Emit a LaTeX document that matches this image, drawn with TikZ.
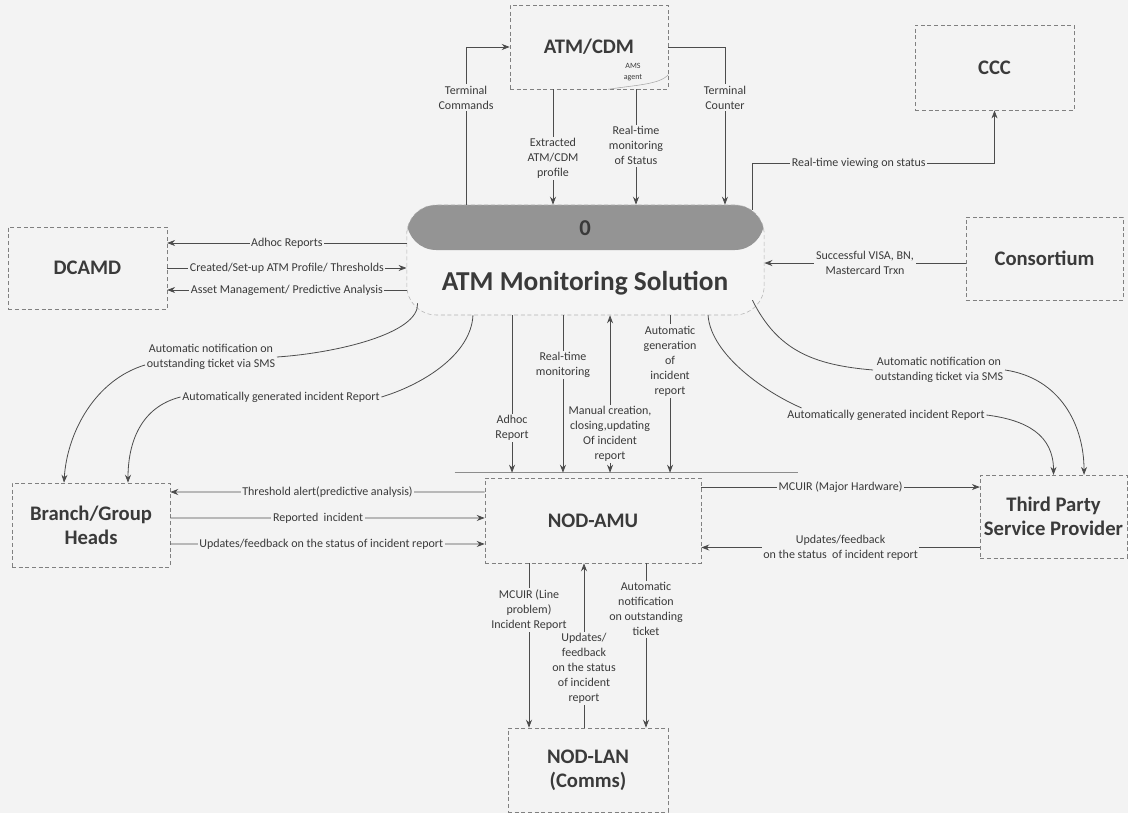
\documentclass[tikz,border=0pt]{standalone}
\usepackage{fontspec}
\setmainfont{Carlito}
\usetikzlibrary{arrows.meta}
\definecolor{paper}{HTML}{F3F3F3}
\definecolor{ink}{HTML}{3A3A3A}

\begin{document}
\begin{tikzpicture}[x=0.75pt,y=-0.75pt,
  >={Stealth[length=6pt,width=4.5pt]},
  entity/.style={rectangle, draw=black!50, densely dashed, line width=0.4pt, fill=paper, text=ink, align=center, font=\bfseries\fontsize{15.5}{18}\selectfont},
  lbl/.style={fill=paper, inner sep=1.2pt, text=ink, align=center, font=\fontsize{9}{11.25}\selectfont},
  flow/.style={draw=black!70, line width=0.6pt, ->},
  flowline/.style={draw=black!70, line width=0.6pt}]
\useasboundingbox (0,0) rectangle (1128,813);
\fill[paper] (0,0) rectangle (1128,813);

% entities
\node[entity, minimum width=118.5pt, minimum height=63pt] (atm) at (589,47) {ATM/CDM};
\node[font=\fontsize{6}{8}\selectfont, text=ink, align=center] (agent) at (633,72) {AMS\\agent};
\draw[black!35, line width=0.4pt] ([xshift=-45pt]atm.south east) .. controls +(25,-4) and +(-8,10) .. ([yshift=11pt]atm.south east);
\node[entity, minimum width=119pt, minimum height=64pt] (ccc) at (994.5,67.5) {CCC};
\node[entity, minimum width=119pt, minimum height=61.5pt] (dcamd) at (87.5,268) {DCAMD};
\node[entity, minimum width=118pt, minimum height=62pt] (cons) at (1044.5,258.5) {Consortium};
\node[entity, minimum width=118.5pt, minimum height=63pt] (branch) at (91,525) {Branch/Group\\Heads};
\node[entity, minimum width=162pt, minimum height=63.75pt] (nodamu) at (593,520.5) {NOD-AMU};
\node[entity, minimum width=110pt, minimum height=62pt, inner sep=1pt] (tsp) at (1053.5,516.5) {Third Party\\Service Provider};
\node[entity, minimum width=120pt, minimum height=63pt] (nodlan) at (588,770) {NOD-LAN\\(Comms)};

% process 0
\node[rectangle, rounded corners=22pt, minimum width=268pt, minimum height=82.5pt, fill=white!96!black, draw=black!30, densely dashed,
  path picture={\fill[black!42] (path picture bounding box.north west) rectangle ([yshift=-33.75pt]path picture bounding box.north east);}] (ams) at (585.5,260) {};
\node[font=\bfseries\fontsize{17}{17}\selectfont, text=ink] (amsnum) at (585,228) {0};
\node[font=\bfseries\fontsize{20.5}{24}\selectfont, text=ink] (amsname) at (585,283) {ATM Monitoring Solution};

\coordinate (barL) at ([shift={(-22.5pt,3.75pt)}]nodamu.north west);
\coordinate (barR) at ([shift={(72.75pt,3.75pt)}]nodamu.north east);
\draw[black!45, line width=0.4pt] (barL) -- (barR);

% ATM/CDM
\draw[flow] ([xshift=-89.6pt]ams.north) |- node[lbl, pos=0.34] (tcmd) {Terminal\\Commands} (atm.west);
\coordinate (xp) at ([xshift=-27pt]atm.south);
\draw[flow] (xp) -- node[lbl, pos=0.6] (xprof) {Extracted\\ATM/CDM\\profile} (xp |- ams.north);
\coordinate (rp) at ([xshift=35.25pt]atm.south);
\draw[flow] (rp) -- node[lbl, pos=0.49] (rstat) {Real-time\\monitoring\\of Status} (rp |- ams.north);
\draw[flow] (atm.east) -| node[lbl, pos=0.66] (tcnt) {Terminal\\Counter} ([xshift=104.6pt]ams.north);

% CCC
\draw[flow] ([xshift=124.9pt,yshift=-4pt]ams.north) -- ++(0,-47) -| node[lbl, pos=0.22] (rview) {Real-time viewing on status} (ccc.south);

% DCAMD
\draw[flow] ([yshift=12.75pt]ams.west) -- node[lbl] (adhr) {Adhoc Reports} ([yshift=18.75pt]dcamd.east);
\draw[flow] (dcamd.east) -- node[lbl] (prof) {Created/Set-up ATM Profile/ Thresholds} (dcamd.east -| ams.west);
\draw[flow] ([yshift=-22.5pt]ams.west) -- node[lbl] (asset) {Asset Management/ Predictive Analysis} ([yshift=-16.5pt]dcamd.east);

% Consortium
\coordinate (cin) at ([yshift=-3.4pt]cons.west);
\draw[flow] (cin) -- node[lbl] (visa) {Successful VISA, BN,\\Mastercard Trxn} (cin -| ams.east);

% process 0 and NOD-AMU
\coordinate (adp) at ([xshift=-55.1pt]ams.south);
\draw[flow] (adp) -- node[lbl, pos=0.715] (adhr2) {Adhoc\\Report} (adp |- barL);
\coordinate (rtp) at ([xshift=-16.9pt]ams.south);
\draw[flow] (rtp) -- node[lbl, pos=0.316] (rtmon) {Real-time\\monitoring} (rtp |- barL);
\coordinate (mcp) at ([xshift=18.4pt]ams.south);
\draw[flow, <->] (mcp) -- node[lbl, pos=0.755] (manual) {Manual creation,\\closing,updating\\Of incident\\report} (mcp |- barL);
\coordinate (agp) at ([xshift=63.4pt]ams.south);
\draw[flow] (agp) -- node[lbl, pos=0.29] (autogen) {Automatic\\generation\\of\\incident\\report} (agp |- barL);

% NOD-AMU and NOD-LAN
\coordinate (mlp) at ([xshift=-48pt]nodamu.south);
\draw[flow] (mlp) -- node[lbl, pos=0.285] (mline) {MCUIR (Line\\problem)\\Incident Report} (mlp |- nodlan.north);
\coordinate (ufp) at ([xshift=-3pt]nodlan.north);
\draw[flow] (ufp) -- node[lbl, pos=0.36] (upd2) {Updates/\\feedback\\on the status\\of incident\\report} (ufp |- nodamu.south);
\coordinate (anp) at ([xshift=39.75pt]nodamu.south);
\draw[flow] (anp) -- node[lbl, pos=0.28] (anot) {Automatic\\notification\\on outstanding\\ticket} (anp |- nodlan.north);

% Branch/Group Heads
\draw[flow] ([yshift=21.4pt]nodamu.west) -- node[lbl] (thr) {Threshold alert(predictive analysis)} ([yshift=24.75pt]branch.east);
\draw[flow] ([yshift=5.25pt]branch.east) -- node[lbl, pos=0.47] (rinc) {Reported\ \ incident} ([yshift=1.9pt]nodamu.west);
\draw[flow] ([yshift=-14.25pt]branch.east) -- node[lbl, pos=0.48] (upd1) {Updates/feedback on the status of incident report} ([yshift=-17.6pt]nodamu.west);

% Third Party Service Provider
\draw[flow] ([yshift=25.1pt]nodamu.east) -- node[lbl] (mhw) {MCUIR (Major Hardware)} ([yshift=22.1pt]tsp.west);
\draw[flow] ([yshift=-23.25pt]tsp.west) -- node[lbl] (upd3) {Updates/feedback\\on the status\ \ of incident report} ([yshift=-20.25pt]nodamu.east);

% curved notifications
\node[lbl] (smsl) at (211,357) {Automatic notification on\\outstanding ticket via SMS};
\draw[flowline] ([shift={(8.25pt,9pt)}]ams.south west) .. controls +(2,30) and +(60,-4) .. (smsl.east);
\draw[flow] ([yshift=-6pt]smsl.west) .. controls +(-50,15) and +(3,-50) .. ([xshift=-20.25pt]branch.north);
\node[lbl] (rptl) at (281,397) {Automatically generated incident Report};
\draw[flowline] ([xshift=-84.4pt]ams.south) .. controls +(-2,40) and +(40,-12) .. (rptl.east);
\draw[flow] (rptl.west) .. controls +(-40,10) and +(0,-40) .. ([xshift=27.75pt]branch.north);
\node[lbl] (smsr) at (939,370) {Automatic notification on\\outstanding ticket via SMS};
\draw[flowline] ([shift={(-9pt,11.25pt)}]ams.south east) .. controls +(25,50) and +(-60,-5) .. (smsr.west);
\draw[flow] (smsr.east) .. controls +(55,8) and +(0,-50) .. ([xshift=22.9pt]tsp.north);
\node[lbl] (rptr) at (886,415) {Automatically generated incident Report};
\draw[flowline] ([xshift=91.9pt]ams.south) .. controls +(3,40) and +(-35,-15) .. ([xshift=12pt]rptr.north west);
\draw[flow] (rptr.east) .. controls +(40,5) and +(0,-40) .. (tsp.north);
\end{tikzpicture}
\end{document}
